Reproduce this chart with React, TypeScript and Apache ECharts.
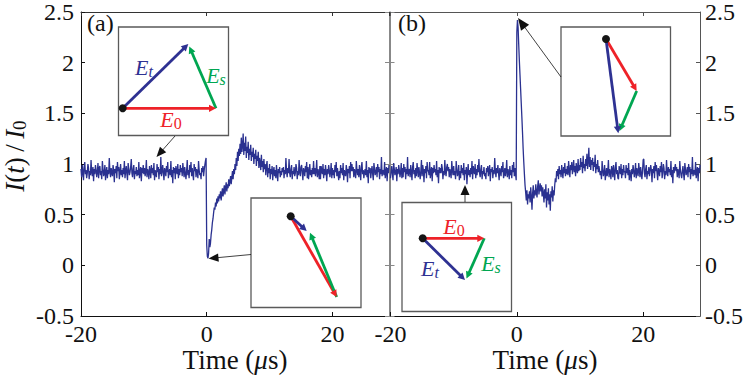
import React, { useEffect, useRef } from "react";
import * as echarts from "echarts";

// ---- data ----
const TIME_START = -20;
const TIME_STEP = 0.1;
const X_MIN = -20;
const X_MAX = 29;
const X_INTERVAL = 20;
const Y_MIN = -0.5;
const Y_MAX = 2.5;
const Y_INTERVAL = 0.5;

// panel (a): normalized intensity I(t)/I0, sampled every 0.1 µs from -20 µs
const SIGNAL_A = [
  // t = -20 .. -0.1
  0.95,0.87,0.99,0.92,0.84,0.97,1.02,0.90,0.94,0.86,
  0.91,1.00,0.96,0.85,0.93,0.89,1.04,0.92,0.88,0.97,
  0.83,0.95,0.90,0.99,0.94,0.87,0.92,1.01,0.86,0.96,
  0.98,0.89,0.93,0.85,1.03,0.95,0.88,0.91,0.99,0.84,
  0.92,0.97,0.86,0.94,0.90,1.06,0.93,0.87,0.96,0.91,
  0.88,0.99,0.94,0.82,0.95,0.91,0.98,0.86,1.02,0.93,
  0.97,0.85,0.92,1.00,0.89,0.94,0.87,0.96,0.90,1.03,
  0.86,0.93,0.98,0.90,0.84,1.01,0.95,0.89,0.92,0.97,
  1.05,0.91,0.87,0.95,0.99,0.85,0.93,0.90,0.97,0.88,
  0.94,0.89,1.02,0.86,0.92,0.97,0.83,0.96,0.91,0.99,
  0.90,0.96,0.88,0.93,1.04,0.87,0.95,0.92,0.85,0.98,
  0.93,0.86,0.99,0.91,0.96,0.89,1.01,0.84,0.94,0.90,
  0.87,1.00,0.92,0.97,0.85,0.95,0.90,1.07,0.88,0.93,
  0.99,0.91,0.84,0.96,0.93,0.88,0.98,0.92,1.02,0.86,
  0.92,0.95,0.89,1.03,0.87,0.94,0.81,0.97,0.91,0.96,
  0.85,0.98,0.93,0.90,1.00,0.86,0.95,0.89,0.99,0.92,
  0.96,0.88,1.01,0.94,0.87,0.97,0.91,0.85,0.93,1.04,
  0.89,0.94,0.86,0.99,0.92,1.02,0.88,0.96,0.90,0.84,
  1.00,0.93,0.97,0.87,0.95,0.91,0.86,1.03,0.94,0.89,
  0.91,0.85,0.96,0.92,0.98,0.88,0.94,0.99,1.03,1.06,
  // t = 0 .. 12
  0.20,0.09,0.07,0.12,0.26,0.18,0.22,0.30,0.35,0.42,
  0.46,0.52,0.57,0.55,0.62,0.58,0.66,0.61,0.68,0.63,
  0.70,0.66,0.73,0.64,0.71,0.76,0.68,0.74,0.79,0.70,
  0.77,0.82,0.73,0.80,0.76,0.85,0.78,0.83,0.88,0.80,
  0.87,0.93,0.85,0.95,0.90,1.00,0.94,1.06,0.98,1.12,
  1.03,1.15,1.08,1.20,1.10,1.26,1.12,1.18,1.30,1.09,
  1.21,1.13,1.27,1.06,1.17,1.11,1.22,1.04,1.15,1.09,
  1.19,1.03,1.12,1.07,1.16,1.00,1.10,1.05,1.14,0.98,
  1.08,1.03,1.12,0.96,1.06,1.01,0.94,1.09,0.97,1.03,
  0.92,1.05,0.95,1.00,0.89,0.98,1.03,0.87,0.96,0.91,
  1.00,0.85,0.95,0.90,0.98,0.84,0.93,0.97,0.88,0.94,
  0.86,0.99,0.90,0.83,0.95,0.91,0.97,0.87,0.93,0.89,
  0.96,
  // t = 12.1 .. 29
  0.92,0.97,0.86,0.94,0.90,1.06,0.93,0.87,0.96,0.91,
  1.05,0.91,0.87,0.95,0.99,0.85,0.93,0.90,0.97,0.88,
  0.91,1.00,0.96,0.85,0.93,0.89,1.04,0.92,0.88,0.97,
  0.99,0.91,0.84,0.96,0.93,0.88,0.98,0.92,1.02,0.86,
  0.97,0.85,0.92,1.00,0.89,0.94,0.87,0.96,0.90,1.03,
  0.90,0.96,0.88,0.93,1.04,0.87,0.95,0.92,0.85,0.98,
  0.85,0.98,0.93,0.90,1.00,0.86,0.95,0.89,0.99,0.92,
  0.83,0.95,0.90,0.99,0.94,0.87,0.92,1.01,0.86,0.96,
  0.89,0.94,0.86,0.99,0.92,1.02,0.88,0.96,0.90,0.84,
  0.93,0.86,0.99,0.91,0.96,0.89,1.01,0.84,0.94,0.90,
  0.88,0.99,0.94,0.82,0.95,0.91,0.98,0.86,1.02,0.93,
  1.00,0.93,0.97,0.87,0.95,0.91,0.86,1.03,0.94,0.89,
  0.95,0.87,0.99,0.92,0.84,0.97,1.02,0.90,0.94,0.86,
  0.92,0.95,0.89,1.03,0.87,0.94,0.81,0.97,0.91,0.96,
  0.86,0.93,0.98,0.90,0.84,1.01,0.95,0.89,0.92,0.97,
  0.87,1.00,0.92,0.97,0.85,0.95,0.90,1.07,0.88,0.93,
  0.94,0.89,1.02,0.86,0.92,0.97,0.83,0.96,0.91,0.99,
];

// panel (b)
const SIGNAL_B = [
  // t = -20 .. -0.1
  0.86,0.93,0.98,0.90,0.84,1.01,0.95,0.89,0.92,0.97,
  0.83,0.95,0.90,0.99,0.94,0.87,0.92,1.01,0.86,0.96,
  0.87,1.00,0.92,0.97,0.85,0.95,0.90,1.07,0.88,0.93,
  0.95,0.87,0.99,0.92,0.84,0.97,1.02,0.90,0.94,0.86,
  0.96,0.88,1.01,0.94,0.87,0.97,0.91,0.85,0.93,1.04,
  0.88,0.99,0.94,0.82,0.95,0.91,0.98,0.86,1.02,0.93,
  0.94,0.89,1.02,0.86,0.92,0.97,0.83,0.96,0.91,0.99,
  0.92,0.95,0.89,1.03,0.87,0.94,0.81,0.97,0.91,0.96,
  0.91,1.00,0.96,0.85,0.93,0.89,1.04,0.92,0.88,0.97,
  1.00,0.93,0.97,0.87,0.95,0.91,0.86,1.03,0.94,0.89,
  0.98,0.89,0.93,0.85,1.03,0.95,0.88,0.91,0.99,0.84,
  0.93,0.86,0.99,0.91,0.96,0.89,1.01,0.84,0.94,0.90,
  0.97,0.80,0.92,1.00,0.89,0.94,0.87,0.96,0.90,1.03,
  0.85,0.98,0.93,0.90,1.00,0.86,0.95,0.89,0.99,0.92,
  1.05,0.91,0.87,0.95,0.99,0.85,0.93,0.90,0.97,0.88,
  0.91,0.85,0.96,0.92,0.98,0.88,0.94,0.99,0.83,0.95,
  0.92,0.97,0.86,0.94,0.90,1.06,0.93,0.87,0.96,0.91,
  0.99,0.91,0.84,0.96,0.93,0.88,0.98,0.92,1.02,0.86,
  0.90,0.96,0.88,0.93,1.04,0.87,0.95,0.92,0.85,0.98,
  0.89,0.94,0.86,0.99,0.92,1.02,0.88,0.96,0.90,0.84,
  // t = 0 .. 13
  2.30,2.42,2.35,2.18,2.02,1.88,1.74,1.60,1.46,1.31,
  1.15,1.02,0.90,0.79,0.72,0.64,0.74,0.60,0.70,0.66,
  0.73,0.62,0.77,0.68,0.55,0.71,0.79,0.66,0.74,0.69,
  0.80,0.72,0.67,0.78,0.84,0.70,0.76,0.81,0.73,0.79,
  0.68,0.77,0.71,0.62,0.75,0.66,0.80,0.57,0.72,0.64,
  0.76,0.60,0.70,0.54,0.73,0.67,0.78,0.63,0.74,0.69,
  0.79,0.86,0.82,0.93,0.88,0.95,0.85,0.98,0.90,0.94,
  0.87,0.99,0.92,0.86,0.97,0.91,1.01,0.88,0.95,0.90,
  0.98,0.89,1.03,0.93,0.87,0.99,0.94,1.02,0.90,0.96,
  1.04,0.92,0.98,0.88,1.01,0.95,0.91,1.05,0.93,0.99,
  0.94,1.06,0.97,1.02,0.91,1.08,0.96,1.00,0.93,1.05,
  0.98,1.10,0.95,1.03,1.16,0.97,1.07,0.94,1.04,0.99,
  1.06,0.93,1.02,0.97,1.09,0.91,1.00,0.95,1.04,0.92,
  0.98,
  // t = 13.1 .. 29
  0.98,0.89,0.93,0.85,1.03,0.95,0.88,0.91,0.99,0.84,
  0.90,0.96,0.88,0.93,1.04,0.87,0.95,0.92,0.85,0.98,
  0.95,0.87,0.99,0.92,0.84,0.97,1.02,0.90,0.94,0.86,
  0.85,0.98,0.93,0.90,1.00,0.86,0.95,0.89,0.99,0.92,
  0.93,0.86,0.99,0.91,0.96,0.89,1.01,0.84,0.94,0.90,
  0.83,0.95,0.90,0.99,0.94,0.87,0.92,1.01,0.86,0.96,
  0.96,0.88,1.01,0.94,0.87,0.97,0.91,0.85,0.93,1.04,
  1.05,0.91,0.87,0.95,0.99,0.85,0.93,0.90,0.97,0.88,
  0.88,0.99,0.94,0.82,0.95,0.91,0.98,0.86,1.02,0.93,
  0.99,0.91,0.84,0.96,0.93,0.88,0.98,0.92,1.02,0.86,
  0.91,1.00,0.96,0.85,0.93,0.89,1.04,0.92,0.88,0.97,
  0.92,0.95,0.89,1.03,0.87,0.94,0.81,0.97,0.91,0.96,
  1.00,0.93,0.97,0.87,0.95,0.91,0.86,1.03,0.94,0.89,
  0.86,0.93,0.98,0.90,0.84,1.01,0.95,0.89,0.92,0.97,
  0.87,1.00,0.92,0.97,0.85,0.95,0.90,1.07,0.88,0.93,
  0.94,0.89,1.02,0.86,0.92,0.97,0.83,0.96,0.91,0.99,
];

const PANEL_LABELS = ["(a)", "(b)"];

// ---- styles ----
const SERIF = "Liberation Serif";
const LINE_COLOR = "#2a3190";
const RED = "#ee2228";
const BLUE = "#2e3192";
const GREEN = "#00a651";
const FONT_SIZE = 23;

type Pt = [number, number];

function arrow(from: Pt, to: Pt, color: string, lw: number, hl: number, hw: number): any[] {
  const dx = to[0] - from[0];
  const dy = to[1] - from[1];
  const L = Math.hypot(dx, dy);
  const ux = dx / L;
  const uy = dy / L;
  const bx = to[0] - ux * hl;
  const by = to[1] - uy * hl;
  const px = -uy;
  const py = ux;
  return [
    {
      type: "line",
      z: 20,
      shape: { x1: from[0], y1: from[1], x2: bx + ux, y2: by + uy },
      style: { stroke: color, lineWidth: lw },
    },
    {
      type: "polygon",
      z: 21,
      shape: {
        points: [
          [to[0], to[1]],
          [bx + px * hw, by + py * hw],
          [bx - px * hw, by - py * hw],
        ],
      },
      style: { fill: color },
    },
  ];
}

function insetBox(x: number, y: number, w: number, h: number): any {
  return {
    type: "rect",
    z: 15,
    shape: { x, y, width: w, height: h },
    style: { fill: "#ffffff", stroke: "#5a5a5a", lineWidth: 1.3 },
  };
}

function dot(cx: number, cy: number): any {
  return { type: "circle", z: 22, shape: { cx, cy, r: 4 }, style: { fill: "#151515" } };
}

function vecLabel(cx: number, cy: number, sub: string, color: string): any {
  return {
    type: "text",
    z: 23,
    x: cx,
    y: cy,
    style: {
      text: `{m|E}{s|${sub}}`,
      fontFamily: SERIF,
      align: "center",
      verticalAlign: "middle",
      rich: {
        m: { fontFamily: SERIF, fontStyle: "italic", fontSize: 22, fill: color, lineHeight: 24, verticalAlign: "middle" },
        s: {
          fontFamily: SERIF,
          fontStyle: sub === "0" ? "normal" : "italic",
          fontSize: 16,
          fill: color,
          lineHeight: 13,
          verticalAlign: "bottom",
        },
      },
    },
  };
}

function vec(from: Pt, to: Pt, color: string): any[] {
  return arrow(from, to, color, 2.8, 7, 3.6);
}

function buildGraphics(): any[] {
  const g: any[] = [];
  g.push({
    type: "text", z: 30, x: 87, y: 23,
    style: { text: PANEL_LABELS[0], fontFamily: SERIF, fontSize: 24, fill: "#111", verticalAlign: "middle" },
  });
  g.push({
    type: "text", z: 30, x: 398, y: 23,
    style: { text: PANEL_LABELS[1], fontFamily: SERIF, fontSize: 24, fill: "#111", verticalAlign: "middle" },
  });

  // y axis title
  g.push({
    type: "text",
    z: 30,
    x: 15,
    y: 156,
    rotation: Math.PI / 2,
    style: {
      text: "{i|I}{n|(}{i|t}{n|)\u2009/\u2009}{i|I}{s|0}",
      fontFamily: SERIF,
      align: "center",
      verticalAlign: "middle",
      rich: {
        i: { fontFamily: SERIF, fontStyle: "italic", fontSize: 27, fill: "#111", lineHeight: 28, verticalAlign: "middle" },
        n: { fontFamily: SERIF, fontSize: 27, fill: "#111", lineHeight: 28, verticalAlign: "middle" },
        s: { fontFamily: SERIF, fontSize: 19, fill: "#111", lineHeight: 14, verticalAlign: "bottom" },
      },
    },
  });

  const timeTitle = (cx: number) => ({
    type: "text",
    z: 30,
    x: cx,
    y: 360,
    style: {
      text: "{n|Time (}{i|\u03bc}{n|s)}",
      fontFamily: SERIF,
      align: "center",
      verticalAlign: "middle",
      rich: {
        n: { fontFamily: SERIF, fontSize: 27, fill: "#111" },
        i: { fontFamily: SERIF, fontStyle: "italic", fontSize: 27, fill: "#111" },
      },
    },
  });
  g.push(timeTitle(235));
  g.push(timeTitle(545));

  // pointer arrows from insets to the trace
  g.push(...arrow([175, 136], [156.5, 157], "#111", 0.8, 10, 4.2));
  g.push(...arrow([251, 254.5], [208.5, 258.5], "#111", 0.8, 10, 4.2));
  g.push(...arrow([561, 77], [518, 18], "#111", 0.8, 12, 5));
  g.push(...arrow([465, 202], [465, 185], "#111", 0.8, 10, 4.5));

  // inset a-top
  g.push(insetBox(118.5, 27, 110, 108.5));
  g.push(...vec([122.7, 108.3], [216, 108.3], RED));
  g.push(...vec([122.7, 108.3], [188.3, 44], BLUE));
  g.push(...vec([216, 108.3], [189.3, 46.5], GREEN));
  g.push(dot(122.7, 108.3));
  g.push(vecLabel(144, 67, "t", BLUE));
  g.push(vecLabel(216, 75, "s", GREEN));
  g.push(vecLabel(171, 119, "0", RED));

  // inset a-bottom
  g.push(insetBox(251, 198, 110, 109.5));
  g.push(...vec([290.7, 216.3], [336.7, 297], RED));
  g.push(...vec([336.7, 297], [310, 232.7], GREEN));
  g.push(...vec([290.7, 216.3], [306.7, 231], BLUE));
  g.push(dot(290.7, 216.3));

  // inset b-top
  g.push(insetBox(561, 27, 109.5, 109));
  g.push(...vec([606, 39], [636.7, 91], RED));
  g.push(...vec([636.7, 91], [619.5, 131], GREEN));
  g.push(...vec([606, 39], [618.3, 133.3], BLUE));
  g.push(dot(606, 39));

  // inset b-bottom
  g.push(insetBox(402, 202.5, 109.5, 109));
  g.push(...vec([422.7, 238.3], [484.3, 238.3], RED));
  g.push(...vec([484.3, 238.3], [466.5, 278.5], GREEN));
  g.push(...vec([422.7, 238.3], [465, 280], BLUE));
  g.push(dot(422.7, 238.3));
  g.push(vecLabel(454, 226, "0", RED));
  g.push(vecLabel(430, 268, "t", BLUE));
  g.push(vecLabel(491, 263, "s", GREEN));

  return g;
}

function xAxisCfg(gridIndex: number, position: "top" | "bottom", showLabel: boolean, color: string): any {
  return {
    type: "value",
    gridIndex,
    position,
    min: X_MIN,
    max: X_MAX,
    interval: X_INTERVAL,
    axisLine: { show: true, onZero: false, lineStyle: { color, width: 1 } },
    axisTick: { show: true, inside: true, length: 4, lineStyle: { color, width: 1 } },
    axisLabel: {
      show: showLabel,
      showMaxLabel: false,
      fontFamily: SERIF,
      fontSize: 24,
      color: "#111",
      margin: 6,
    },
    splitLine: { show: false },
  };
}

function yAxisCfg(gridIndex: number, position: "left" | "right", showLabel: boolean, color: string): any {
  return {
    type: "value",
    gridIndex,
    position,
    min: Y_MIN,
    max: Y_MAX,
    interval: Y_INTERVAL,
    axisLine: { show: true, onZero: false, lineStyle: { color, width: 1 } },
    axisTick: { show: true, inside: true, length: 4, lineStyle: { color, width: 1 } },
    axisLabel: {
      show: showLabel,
      fontFamily: SERIF,
      fontSize: 24,
      color: "#111",
      margin: position === "left" ? 7 : 5,
    },
    splitLine: { show: false },
  };
}

export default function App() {
  const ref = useRef<HTMLDivElement>(null);

  useEffect(() => {
    if (!ref.current) return;
    const chart = echarts.init(ref.current, undefined, { renderer: "svg" });
    const dataA = SIGNAL_A.map((v, i) => [TIME_START + i * TIME_STEP, v]);
    const dataB = SIGNAL_B.map((v, i) => [TIME_START + i * TIME_STEP, v]);
    const option: any = {
      animation: false,
      backgroundColor: "#ffffff",
      textStyle: { fontFamily: SERIF },
      grid: [
        { left: 81, top: 9, width: 308, height: 307 },
        { left: 390.5, top: 9, width: 309.5, height: 307 },
      ],
      xAxis: [
        xAxisCfg(0, "bottom", true, "#111"),
        xAxisCfg(0, "top", false, "#333"),
        xAxisCfg(1, "bottom", true, "#111"),
        xAxisCfg(1, "top", false, "#555"),
      ],
      yAxis: [
        yAxisCfg(0, "left", true, "#111"),
        yAxisCfg(0, "right", false, "#888"),
        yAxisCfg(1, "left", false, "#888"),
        yAxisCfg(1, "right", true, "#555"),
      ],
      series: [
        {
          type: "line", xAxisIndex: 0, yAxisIndex: 0, data: dataA, symbol: "none", silent: true,
          lineStyle: { color: LINE_COLOR, width: 1.3 }, z: 5,
        },
        {
          type: "line", xAxisIndex: 2, yAxisIndex: 2, data: dataB, symbol: "none", silent: true,
          lineStyle: { color: LINE_COLOR, width: 1.3 }, z: 5,
        },
      ],
      graphic: buildGraphics(),
    };
    chart.setOption(option);
    return () => chart.dispose();
  }, []);

  return (
    <div style={{ position: "fixed", left: 0, top: 0, width: 747, height: 376, background: "#fff", fontFamily: SERIF }}>
      <div ref={ref} style={{ width: 747, height: 376, fontFamily: SERIF }} />
    </div>
  );
}
